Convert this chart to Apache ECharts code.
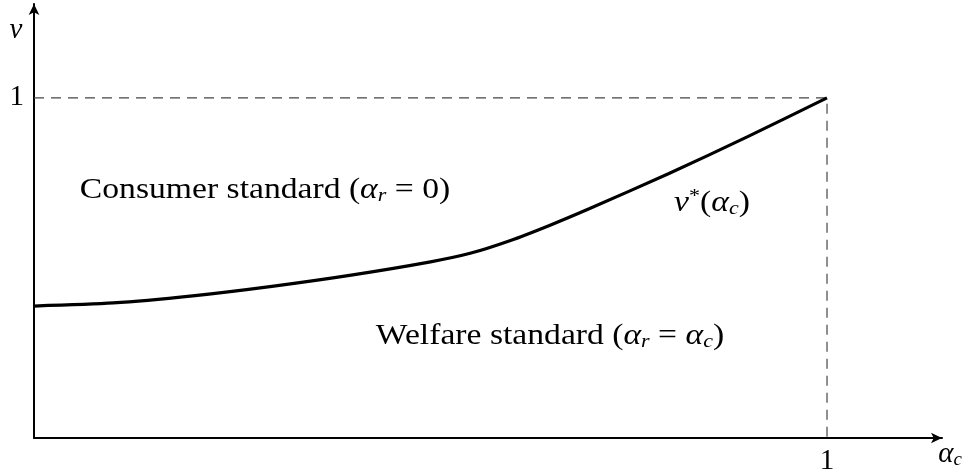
<!DOCTYPE html>
<html>
<head>
<meta charset="utf-8">
<script src="https://cdn.jsdelivr.net/npm/echarts@6/dist/echarts.min.js"></script>
<style>html,body{margin:0;padding:0;background:#fff}#c{width:968px;height:472px}</style>
</head>
<body>
<div id="c"></div>
<script>
// curve nu*(alpha_c): [alpha_c, nu]
const alphaC = [0, 0.1, 0.2, 0.3, 0.4, 0.5, 0.55, 0.6, 0.65, 0.7, 0.8, 0.9, 1];
const nuStar = [0.388, 0.397, 0.418, 0.446, 0.479, 0.518, 0.543, 0.580, 0.625, 0.674, 0.777, 0.886, 1];
const boundaryX = [0, 1, 1];
const boundaryY = [1, 1, 0];
const xTicks = [1];
const yTicks = [1];

const chart = echarts.init(document.getElementById('c'), null, {renderer: 'canvas'});
const serif = '"Liberation Serif", "DejaVu Serif", serif';
const fs = 29;
const richMath = {
  n: {fontFamily: serif, fontSize: fs, color: '#000'},
  i: {fontFamily: serif, fontSize: fs, fontStyle: 'italic', color: '#000'},
  s: {fontFamily: serif, fontSize: 19, fontStyle: 'italic', color: '#000', padding: [12, 0, 0, 0]},
  sup: {fontFamily: serif, fontSize: 19, color: '#000', padding: [0, 0, 12, 0]}
};
const sx = 1.16;

const option = {
  animation: false,
  grid: {left: 34, right: 26, top: 4, bottom: 34, containLabel: false, outerBoundsMode: 'none'},
  xAxis: {
    type: 'value', min: 0, max: 1.145, interval: 1,
    splitLine: {show: false},
    axisTick: {show: false},
    axisLine: {lineStyle: {color: '#000', width: 2}, symbol: ['none', 'arrow'], symbolSize: [8, 11]},
    axisLabel: {
      showMaxLabel: false, margin: 9,
      formatter: v => xTicks.includes(v) ? String(v) : '',
      fontFamily: serif, fontSize: fs, color: '#000'
    }
  },
  yAxis: {
    type: 'value', min: 0, max: 1.276, interval: 1,
    splitLine: {show: false},
    axisTick: {show: false},
    axisLine: {lineStyle: {color: '#000', width: 2}, symbol: ['none', 'arrow'], symbolSize: [8, 11]},
    axisLabel: {
      showMaxLabel: false, margin: 10,
      formatter: v => yTicks.includes(v) ? String(v) : '',
      fontFamily: serif, fontSize: fs, color: '#000'
    }
  },
  series: [
    {
      type: 'line', silent: true, symbol: 'none',
      data: boundaryX.map((x, k) => [x, boundaryY[k]]),
      lineStyle: {color: '#444', width: 1.2, type: [10, 7]}
    },
    {
      type: 'line', silent: true, symbol: 'none', smooth: 0.25,
      data: alphaC.map((x, k) => [x, nuStar[k]]),
      lineStyle: {color: '#000', width: 3.2}
    }
  ],
  graphic: [
    {type: 'text', x: 16, y: 30, style: {text: '{i|ν}', rich: richMath, align: 'center', verticalAlign: 'middle'}},
    {type: 'text', x: 950, y: 454, style: {text: '{i|α}{s|c}', rich: richMath, align: 'center', verticalAlign: 'middle'}},
    {type: 'text', x: 265, y: 190, scaleX: sx, style: {text: '{n|Consumer standard (}{i|α}{s|r}{n| = 0)}', rich: richMath, align: 'center', verticalAlign: 'middle'}},
    {type: 'text', x: 550, y: 336, scaleX: sx, style: {text: '{n|Welfare standard (}{i|α}{s|r}{n| = }{i|α}{s|c}{n|)}', rich: richMath, align: 'center', verticalAlign: 'middle'}},
    {type: 'text', x: 712, y: 203, scaleX: sx, style: {text: '{i|ν}{sup|*}{n|(}{i|α}{s|c}{n|)}', rich: richMath, align: 'center', verticalAlign: 'middle'}}
  ]
};
chart.setOption(option);
</script>
</body>
</html>
